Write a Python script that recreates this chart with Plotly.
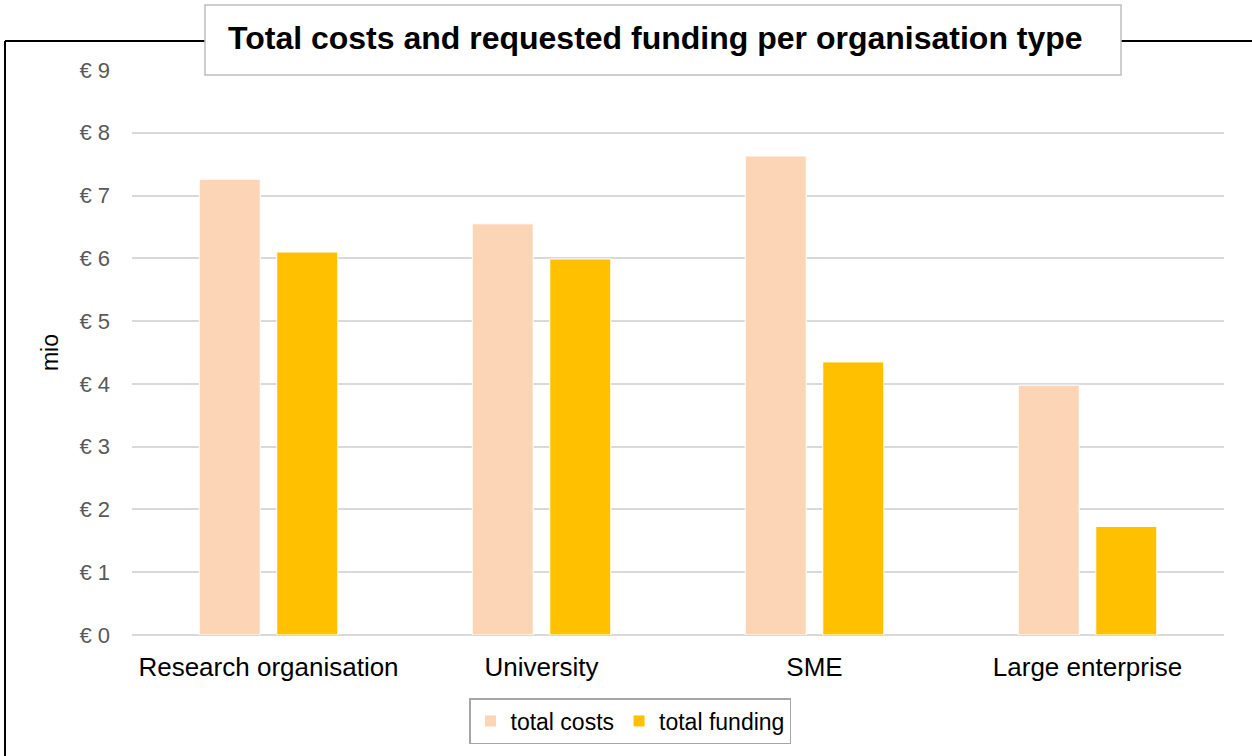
import plotly.graph_objects as go

categories = ["Research organisation", "University", "SME", "Large enterprise"]
total_costs = [7.26, 6.55, 7.63, 3.98]
total_funding = [6.10, 5.99, 4.35, 1.73]
y_ticks = [0, 1, 2, 3, 4, 5, 6, 7, 8, 9]
y_tick_labels = ["€ %d" % v for v in y_ticks]

W, H = 1252, 756
L, R, T, B = 132, 1224, 70, 635

def px(x):
    return (x - L) / (R - L)

def py(y):
    return (B - y) / (B - T)

fig = go.Figure()
fig.add_trace(go.Bar(name="total costs", x=categories, y=total_costs,
                     marker=dict(color="#FBD5B5", line=dict(color="#FFFFFF", width=1))))
fig.add_trace(go.Bar(name="total funding", x=categories, y=total_funding,
                     marker=dict(color="#FFC000", line=dict(color="#FFFFFF", width=1))))

font_family = "Liberation Sans, Arial, sans-serif"

fig.update_layout(
    width=W, height=H,
    margin=dict(l=L, r=W - R, t=T, b=H - B, pad=0),
    paper_bgcolor="white", plot_bgcolor="white",
    barmode="group", bargap=0.432, bargroupgap=0.213,
    font=dict(family=font_family, size=20, color="#000000"),
    showlegend=True,
    legend=dict(orientation="h", x=px(630), xanchor="center", y=py(721), yanchor="middle",
                bordercolor="#A6A6A6", borderwidth=1.5, bgcolor="white",
                font=dict(size=23, color="#000000"), itemwidth=30, traceorder="normal"),
    xaxis=dict(showgrid=False, showline=False, ticks="", tickfont=dict(size=26, color="#000000"),
               ticklabelstandoff=14),
    yaxis=dict(range=[0, 9], tickvals=y_ticks, ticktext=y_tick_labels,
               showgrid=True, gridcolor="#D9D9D9", gridwidth=1.5,
               zeroline=True, zerolinecolor="#D9D9D9", zerolinewidth=1.5,
               showline=False, ticks="", tickfont=dict(size=22, color="#595959"),
               ticklabelstandoff=21,
               title=dict(text="mio", font=dict(size=23, color="#000000"), standoff=14)),
    shapes=[
        dict(type="line", xref="paper", yref="paper", x0=px(5), x1=px(5), y0=py(41), y1=py(770),
             line=dict(color="#000000", width=2)),
        dict(type="line", xref="paper", yref="paper", x0=px(5), x1=px(1260), y0=py(41), y1=py(41),
             line=dict(color="#000000", width=2)),
        dict(type="rect", xref="paper", yref="paper", x0=px(205), x1=px(1121), y0=py(5), y1=py(75),
             line=dict(color="#BFBFBF", width=1.5), fillcolor="white", layer="above"),
    ],
    annotations=[
        dict(text="<b>Total costs and requested funding per organisation type</b>",
             xref="paper", yref="paper", x=px(655), y=py(38), xanchor="center", yanchor="middle",
             showarrow=False, font=dict(size=32, color="#000000", family=font_family)),
    ],
)

fig.write_html("out.html", config={"displayModeBar": False},
               post_script="document.body.style.margin='0px';document.body.style.overflow='hidden';")
